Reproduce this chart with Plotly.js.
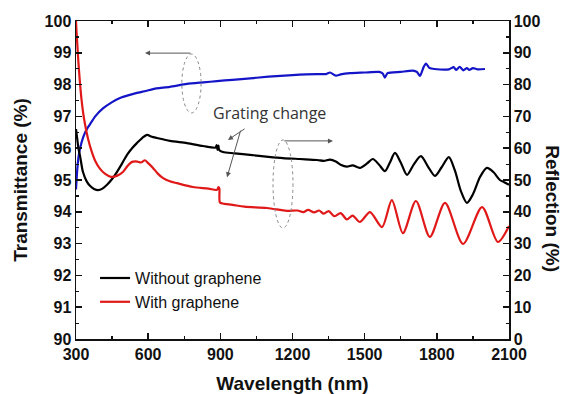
<!DOCTYPE html>
<html>
<head>
<meta charset="utf-8">
<script src="https://cdn.plot.ly/plotly-3.0.1.min.js"></script>
<style>html,body{margin:0;padding:0;background:#fff;}#chart{width:569px;height:394px;}</style>
</head>
<body>
<div id="chart"></div>
<script>
// Transmittance (left axis, blue)
const wlTrans = [300,305,310,317,330,345,358,380,412,450,483,520,553,590,620,690,761,830,886,950,1000,1100,1200,1300,1340,1356,1380,1400,1439,1500,1560,1575,1584,1595,1650,1700,1717,1730,1745,1755,1770,1790,1850,1870,1880,1895,1910,1925,1935,1950,1970,2000];
const transmittance = [94.7,95.3,95.7,96.0,96.35,96.6,96.75,97.0,97.25,97.45,97.58,97.67,97.74,97.8,97.86,97.93,98.02,98.07,98.11,98.15,98.18,98.25,98.3,98.33,98.33,98.38,98.28,98.32,98.36,98.38,98.4,98.35,98.22,98.36,98.4,98.44,98.4,98.27,98.55,98.66,98.52,98.49,98.48,98.55,98.46,98.56,98.45,98.52,98.46,98.52,98.48,98.49];

// Reflection without graphene (right axis, black)
const wlNoG = [300,305,310,317,329,345,358,375,392,410,429,450,470,490,512,533,553,575,595,615,637,690,761,828,880,885,888,892,895,911,960,1023,1100,1160,1230,1302,1330,1356,1380,1400,1426,1450,1480,1510,1534,1560,1584,1605,1626,1650,1676,1705,1734,1765,1792,1820,1850,1875,1900,1925,1950,1980,2008,2035,2062,2080,2100];
const reflNoG = [66,63,60,57.5,52.5,49.5,48.2,47.2,46.8,47.3,48.5,50.3,52.5,55,57.9,60,61.6,63.2,64.2,63.6,63.2,62.3,61.6,60.7,60.2,61.0,59.5,60.8,59.5,58.8,58.4,57.9,57.3,56.9,56.6,56.3,56.0,56.4,55.8,54.8,54.2,54.6,53.8,55.2,56.6,54.8,52.8,55.5,58.5,55.5,51.6,55,57.5,54,51.3,54,57.2,53,46.5,42.8,45.5,51,53.8,52.5,50,49.3,48.5];

// Reflection with graphene (right axis, red)
const wlG = [300,302,306,310,316,322,330,340,350,365,380,400,420,445,470,495,515,533,555,570,587,600,620,640,662,690,720,786,850,886,892,896,898,910,950,1000,1094,1177,1220,1245,1265,1290,1310,1330,1350,1375,1400,1426,1450,1480,1522,1572,1613,1659,1713,1771,1834,1909,1988,2054,2100];
const reflG = [100,97,92,87,81,76,71,66.5,63,59,56,53.5,52,51,51.3,52.5,54.5,55.7,55.8,55.5,56.2,55.3,53.8,52,50.6,49.6,49.0,47.8,47.3,46.9,47.8,47.3,43,42.6,42.2,41.6,41.2,40.3,40.4,39.9,40.6,39.8,40.4,39.4,40.2,38.6,39.6,37.6,38.8,36.8,39.9,35.2,43.7,33.3,43.4,32.1,42.8,29.9,41.5,30.5,35.5];

const xTicks = [300,600,900,1200,1500,1800,2100];
const seriesNames = ['Without graphene','With graphene'];

const tickFont = {family:'Liberation Sans, Arial, sans-serif', size:16, color:'#111', weight:'bold'};
const titleFont = {family:'Liberation Sans, Arial, sans-serif', size:19, color:'#111', weight:'bold'};

const traces = [
  {x: wlTrans, y: transmittance, type:'scatter', mode:'lines', line:{color:'#1515c8', width:2.2, shape:'spline', smoothing:0.6}, showlegend:false, yaxis:'y'},
  {x: wlNoG, y: reflNoG, type:'scatter', mode:'lines', name: seriesNames[0], line:{color:'#000000', width:2.2, shape:'spline', smoothing:0.8}, yaxis:'y2'},
  {x: wlG, y: reflG, type:'scatter', mode:'lines', name: seriesNames[1], line:{color:'#e01818', width:2.2, shape:'spline', smoothing:0.8}, yaxis:'y2'}
];

const arrowStyle = {showarrow:true, text:'', arrowhead:2, arrowsize:1, arrowwidth:1, arrowcolor:'#555', standoff:0, startstandoff:0, xref:'x', yref:'y', axref:'x', ayref:'y'};

const layout = {
  width:569, height:394,
  margin:{l:76, r:60, t:21, b:55},
  paper_bgcolor:'#fff', plot_bgcolor:'#fff',
  showlegend:true,
  legend:{x:0.044, y:0.245, xanchor:'left', yanchor:'top', bgcolor:'rgba(0,0,0,0)', font:{family:'Liberation Sans, Arial, sans-serif', size:16, color:'#111'}, itemwidth:30, tracegroupgap:0},
  xaxis:{range:[300,2100], tickvals:xTicks, ticks:'inside', ticklen:6, tickwidth:1.5, tickcolor:'#111',
    minor:{dtick:150, ticks:'inside', ticklen:3, tickwidth:1.2, tickcolor:'#111'},
    showline:true, linecolor:'#111', linewidth:1.5, mirror:'ticks', showgrid:false, zeroline:false,
    tickfont:tickFont, title:{text:'Wavelength (nm)', font:titleFont, standoff:16}},
  yaxis:{range:[90,100], dtick:1, ticks:'inside', ticklen:6, tickwidth:1.5, tickcolor:'#111',
    minor:{dtick:0.5, ticks:'inside', ticklen:3, tickwidth:1.2, tickcolor:'#111'},
    showline:true, linecolor:'#111', linewidth:1.5, showgrid:false, zeroline:false,
    tickfont:tickFont, title:{text:'Transmittance (%)', font:titleFont, standoff:12}},
  yaxis2:{range:[0,100], dtick:10, overlaying:'y', side:'right', ticks:'inside', ticklen:6, tickwidth:1.5, tickcolor:'#111',
    minor:{dtick:5, ticks:'inside', ticklen:3, tickwidth:1.2, tickcolor:'#111'},
    showline:true, linecolor:'#111', linewidth:1.5, showgrid:false, zeroline:false, tickfont:tickFont},
  shapes:[
    {type:'circle', xref:'x', yref:'y', x0:740, x1:820, y0:97.11, y1:98.96, line:{color:'#888', width:1, dash:'dot'}},
    {type:'circle', xref:'x', yref:'y', x0:1119, x1:1202, y0:93.49, y1:96.26, line:{color:'#888', width:1, dash:'dot'}}
  ],
  annotations:[
    Object.assign({}, arrowStyle, {x:587, y:98.99, ax:782, ay:98.99}),
    Object.assign({}, arrowStyle, {x:1368, y:96.23, ax:1160, ay:96.23}),
    Object.assign({}, arrowStyle, {x:932, y:96.26, ax:1007, ay:96.64}),
    Object.assign({}, arrowStyle, {x:928, y:95.09, ax:986, ay:96.60}),
    {text:'Grating change', x:1105, y:97.1, xref:'x', yref:'y', showarrow:false, font:{family:'Open Sans, sans-serif', size:16, color:'#333'}},
    {text:'Reflection (%)', xref:'paper', yref:'paper', x:1.1, y:0.41, xanchor:'center', showarrow:false, textangle:90, font:titleFont}
  ]
};

Plotly.newPlot('chart', traces, layout, {displayModeBar:false, staticPlot:true});
</script>
</body>
</html>
